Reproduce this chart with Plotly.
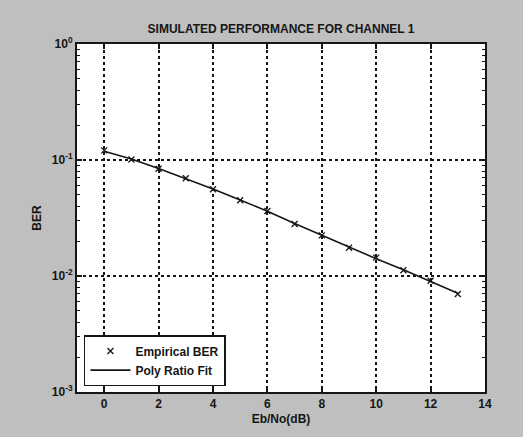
import plotly.graph_objects as go

ebno_db = [0, 1, 2, 3, 4, 5, 6, 7, 8, 9, 10, 11, 12, 13]
empirical_ber = [0.121, 0.101, 0.084, 0.0695, 0.0559, 0.045, 0.0363, 0.0281,
                 0.0224, 0.0175, 0.0144, 0.0112, 0.0091, 0.0070]
fit_ber = [0.119, 0.102, 0.0845, 0.0692, 0.0562, 0.0452, 0.0362, 0.0284,
           0.0224, 0.0177, 0.0141, 0.0113, 0.0090, 0.0071]

x_ticks = [0, 2, 4, 6, 8, 10, 12, 14]
y_ticks = [1, 0.1, 0.01, 0.001]
y_tick_text = ["10<sup>0</sup>", "10<sup>-1</sup>", "10<sup>-2</sup>", "10<sup>-3</sup>"]
y_minor = [m * 10 ** e for e in (-3, -2, -1) for m in range(2, 10)]

ink = "#161616"
font = "Liberation Sans, Arial, sans-serif"

def f(size):
    return dict(family=font, size=size, color=ink, weight="bold")

fig = go.Figure()
fig.add_trace(go.Scatter(
    x=ebno_db, y=empirical_ber, mode="markers", name="Empirical BER",
    marker=dict(symbol="x-thin", size=6, line=dict(color=ink, width=1.3), color=ink),
))
fig.add_trace(go.Scatter(
    x=ebno_db, y=fit_ber, mode="lines", name="Poly Ratio Fit",
    line=dict(color=ink, width=1.6),
))

fig.update_layout(
    width=523, height=437,
    margin=dict(l=77, r=38, t=44, b=45),
    paper_bgcolor="#bfbfbf",
    plot_bgcolor="white",
    font=f(12),
    title=dict(text="SIMULATED PERFORMANCE FOR CHANNEL 1", x=(77 + 204) / 523, xanchor="center",
               y=1 - 29 / 437, yanchor="middle", font=f(12)),
    showlegend=True,
    legend=dict(x=0.017, y=0.017, xanchor="left", yanchor="bottom",
                bgcolor="white", bordercolor=ink, borderwidth=1.5,
                font=f(12), tracegroupgap=0, itemwidth=40),
)

fig.update_xaxes(
    range=[-1, 14], tickvals=x_ticks, ticks="inside", ticklen=5, tickcolor=ink, tickwidth=1.5,
    showline=True, linecolor=ink, linewidth=2, mirror="ticks",
    showgrid=True, gridcolor=ink, griddash="dot", gridwidth=1.5,
    zeroline=False,
    title=dict(text="Eb/No(dB)", standoff=4, font=f(12)),
    tickfont=f(12),
)
fig.update_yaxes(
    type="log", range=[-3, 0], tickvals=y_ticks, ticktext=y_tick_text,
    ticks="inside", ticklen=5, tickcolor=ink, tickwidth=1.5,
    showline=True, linecolor=ink, linewidth=2, mirror="ticks",
    showgrid=True, gridcolor=ink, griddash="dot", gridwidth=1.5,
    zeroline=False,
    minor=dict(tickmode="array", tickvals=y_minor, ticks="inside", ticklen=3,
               tickcolor=ink, tickwidth=1.2, showgrid=False),
    title=dict(text="BER", standoff=8, font=f(12)),
    tickfont=f(12),
)

fig.write_html("out.html")
